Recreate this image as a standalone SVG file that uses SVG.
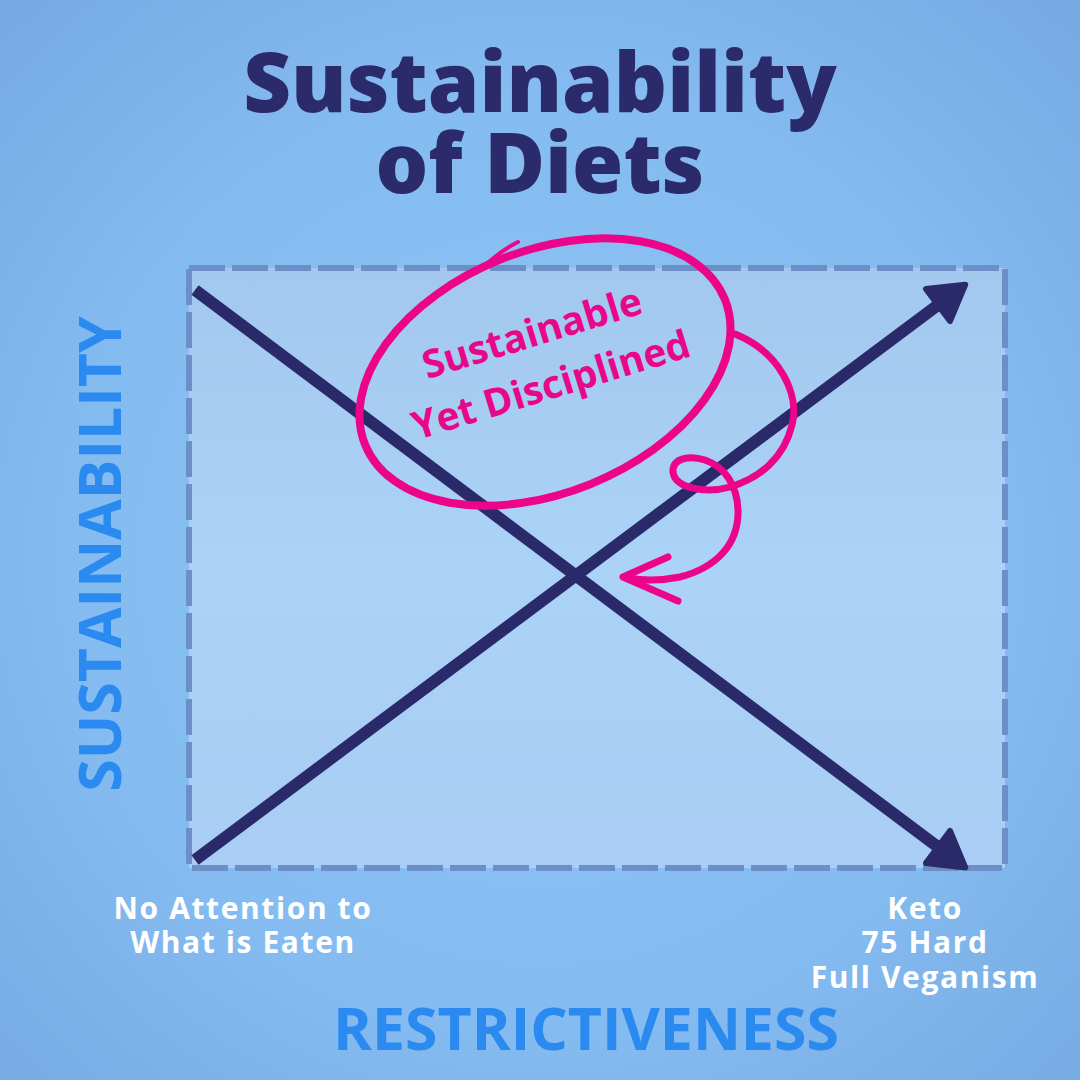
<svg xmlns="http://www.w3.org/2000/svg" width="1080" height="1080" viewBox="0 0 1080 1080">
<defs>
<radialGradient id="bg" cx="540" cy="560" r="780" gradientUnits="userSpaceOnUse">
<stop offset="0" stop-color="#90c6f6"/>
<stop offset="0.6" stop-color="#84bbf0"/>
<stop offset="1" stop-color="#76a9e2"/>
</radialGradient>
<linearGradient id="panel" x1="0" y1="0" x2="0" y2="1">
<stop offset="0" stop-color="#a3c8ef"/>
<stop offset="0.5" stop-color="#abd2f7"/>
<stop offset="1" stop-color="#a9cdf4"/>
</linearGradient>
<marker id="arrow" markerUnits="userSpaceOnUse" markerWidth="60" markerHeight="60" refX="0" refY="30" orient="auto" viewBox="-10 0 60 60">
<path d="M0,10 L34,30 L0,50 Z" fill="#2a2a6a" stroke="#2a2a6a" stroke-width="6" stroke-linejoin="round"/>
</marker>
<style>
.title{font-family:"Open Sans","Liberation Sans",sans-serif;font-weight:800;font-size:83px;fill:#2b2b6b;text-anchor:middle}
.axis{font-family:"Open Sans","Liberation Sans",sans-serif;font-weight:700;font-size:59px;fill:#2a8af0;text-anchor:middle}
.lbl{font-family:"Open Sans","Liberation Sans",sans-serif;font-weight:700;font-size:30px;fill:#ffffff;text-anchor:middle;letter-spacing:1.6px}
.pink{font-family:"Open Sans","Liberation Sans",sans-serif;font-weight:700;font-size:39px;fill:#e8078a;text-anchor:middle}
.line{stroke:#2a2a6a;stroke-width:12;fill:none}
.ink{stroke:#ec058b;fill:none;stroke-linecap:round;stroke-linejoin:round}
</style>
</defs>
<rect x="0" y="0" width="1080" height="1080" fill="url(#bg)"/>
<g id="title">
<text class="title" x="540" y="112">Sustainability</text>
<text class="title" x="540" y="193">of Diets</text>
</g>
<g id="chart">
<rect x="189" y="268" width="816" height="600" fill="url(#panel)" stroke="#6d8fc7" stroke-width="6" stroke-dasharray="36 7"/>
</g>
<g id="connectors">
<line class="line" x1="195" y1="290" x2="938" y2="847" marker-end="url(#arrow)"/>
<line class="line" x1="195" y1="860" x2="938" y2="305" marker-end="url(#arrow)"/>
</g>
<g id="axis-y">
<text class="axis" transform="translate(121,554) rotate(-90)">SUSTAINABILITY</text>
</g>
<g id="axis-x">
<text class="axis" x="586" y="1050">RESTRICTIVENESS</text>
</g>
<g id="label-left">
<text class="lbl" x="243" y="919">No Attention to</text>
<text class="lbl" x="243" y="953">What is Eaten</text>
</g>
<g id="label-right">
<text class="lbl" x="925" y="919">Keto</text>
<text class="lbl" x="925" y="953">75 Hard</text>
<text class="lbl" x="925" y="988">Full Veganism</text>
</g>
<g id="highlight">
<ellipse class="ink" cx="545" cy="372" rx="194" ry="121" transform="rotate(-22 545 372)" stroke-width="8"/>
<path class="ink" d="M476,273 C488,262 502,250 518,242" stroke-width="4"/>
<text class="pink" transform="translate(536,346) rotate(-17)">Sustainable</text>
<text class="pink" transform="translate(555,398) rotate(-17)">Yet Disciplined</text>
<path class="ink" stroke-width="7" d="M735,334 C780,352 800,395 792,425 C784,458 760,478 730,487 C705,494 675,488 673,472 C672,458 690,455 705,460 C725,467 737,485 738,510 C739,545 715,568 680,577 C660,581 640,580 628,578"/>
<path class="ink" stroke-width="7" d="M668,557 L623,577 L678,601"/>
</g>
</svg>
